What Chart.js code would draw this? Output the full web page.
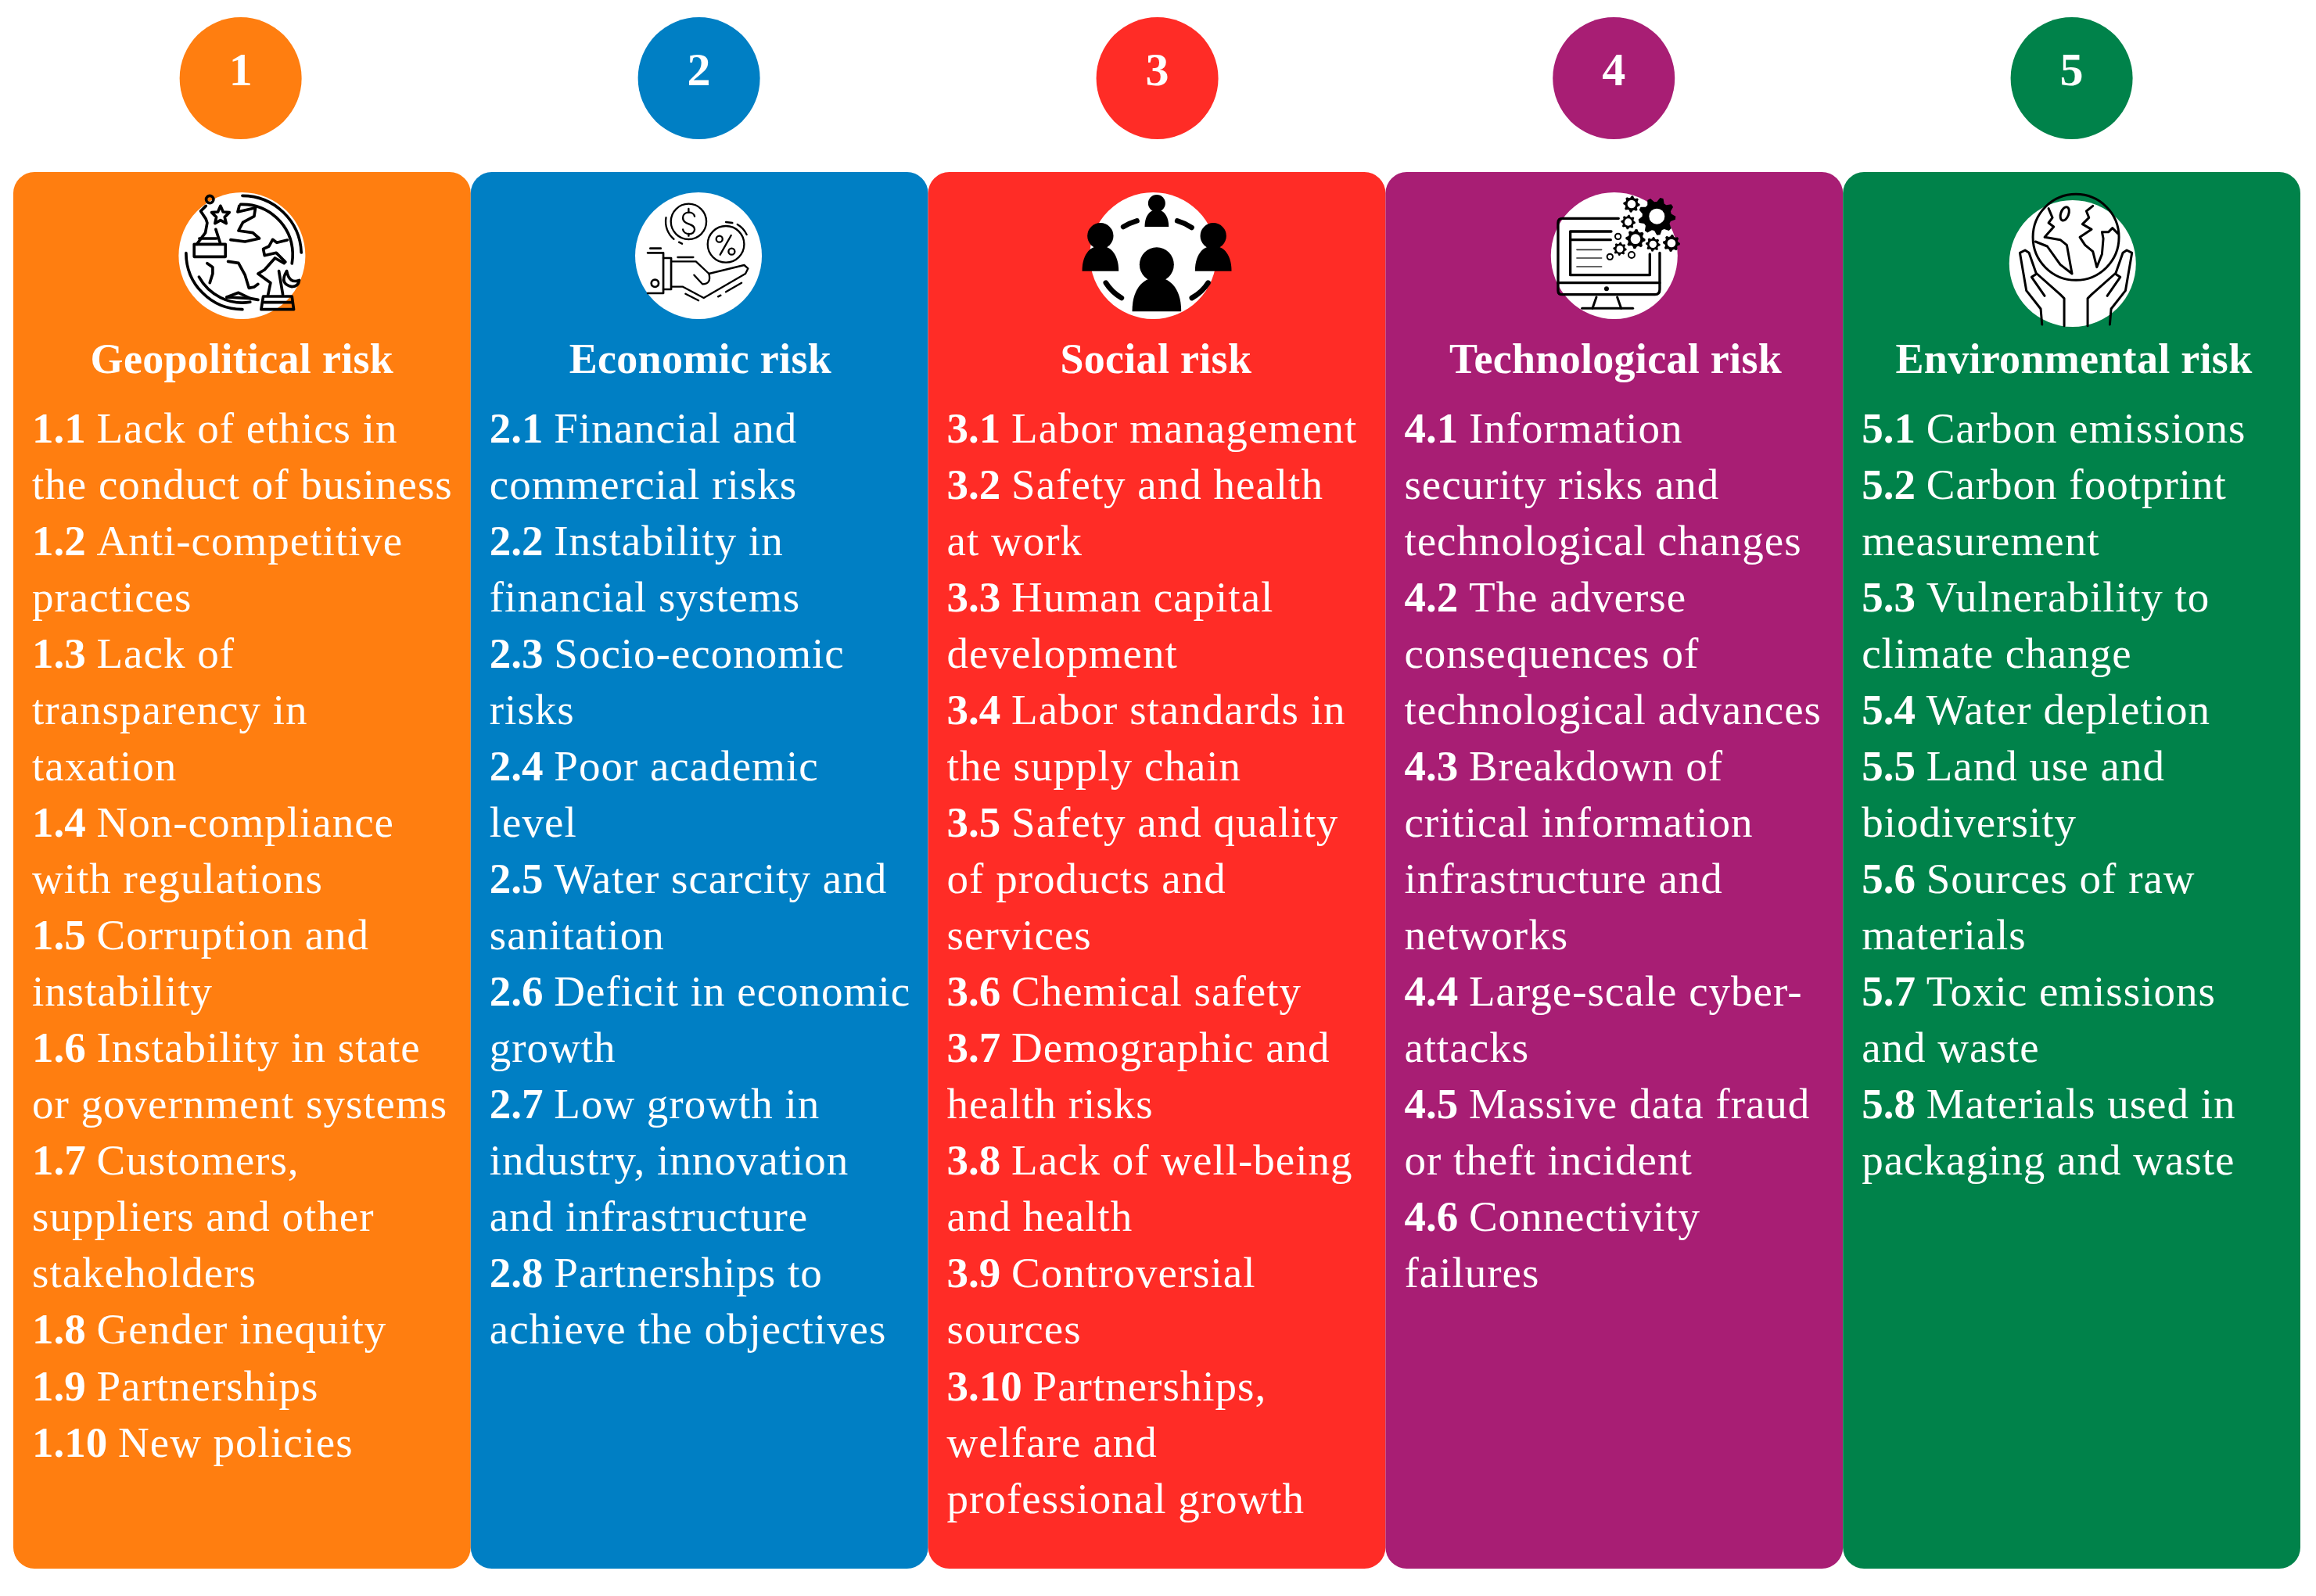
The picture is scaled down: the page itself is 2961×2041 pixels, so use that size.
<!DOCTYPE html>
<html>
<head>
<meta charset="utf-8">
<title>Risk categories</title>
<script src="https://cdn.jsdelivr.net/npm/chart.js@4"></script>
<style>
  html, body { margin: 0; padding: 0; background: #ffffff; }
  canvas { display: block; }
</style>
</head>
<body>
<canvas id="riskChart" width="2961" height="2041"></canvas>
<script>
// --- data ---
const categories = ['Geopolitical risk', 'Economic risk', 'Social risk', 'Technological risk', 'Environmental risk'];
const badgeNumbers = ['1', '2', '3', '4', '5'];

// each item: number, then its lines as wrapped in the picture
const geopoliticalItems = [
  ['1.1', 'Lack of ethics in', 'the conduct of business'],
  ['1.2', 'Anti-competitive', 'practices'],
  ['1.3', 'Lack of', 'transparency in', 'taxation'],
  ['1.4', 'Non-compliance', 'with regulations'],
  ['1.5', 'Corruption and', 'instability'],
  ['1.6', 'Instability in state', 'or government systems'],
  ['1.7', 'Customers,', 'suppliers and other', 'stakeholders'],
  ['1.8', 'Gender inequity'],
  ['1.9', 'Partnerships'],
  ['1.10', 'New policies']
];
const economicItems = [
  ['2.1', 'Financial and', 'commercial risks'],
  ['2.2', 'Instability in', 'financial systems'],
  ['2.3', 'Socio-economic', 'risks'],
  ['2.4', 'Poor academic', 'level'],
  ['2.5', 'Water scarcity and', 'sanitation'],
  ['2.6', 'Deficit in economic', 'growth'],
  ['2.7', 'Low growth in', 'industry, innovation', 'and infrastructure'],
  ['2.8', 'Partnerships to', 'achieve the objectives']
];
const socialItems = [
  ['3.1', 'Labor management'],
  ['3.2', 'Safety and health', 'at work'],
  ['3.3', 'Human capital', 'development'],
  ['3.4', 'Labor standards in', 'the supply chain'],
  ['3.5', 'Safety and quality', 'of products and', 'services'],
  ['3.6', 'Chemical safety'],
  ['3.7', 'Demographic and', 'health risks'],
  ['3.8', 'Lack of well-being', 'and health'],
  ['3.9', 'Controversial', 'sources'],
  ['3.10', 'Partnerships,', 'welfare and', 'professional growth']
];
const technologicalItems = [
  ['4.1', 'Information', 'security risks and', 'technological changes'],
  ['4.2', 'The adverse', 'consequences of', 'technological advances'],
  ['4.3', 'Breakdown of', 'critical information', 'infrastructure and', 'networks'],
  ['4.4', 'Large-scale cyber-', 'attacks'],
  ['4.5', 'Massive data fraud', 'or theft incident'],
  ['4.6', 'Connectivity', 'failures']
];
const environmentalItems = [
  ['5.1', 'Carbon emissions'],
  ['5.2', 'Carbon footprint', 'measurement'],
  ['5.3', 'Vulnerability to', 'climate change'],
  ['5.4', 'Water depletion'],
  ['5.5', 'Land use and', 'biodiversity'],
  ['5.6', 'Sources of raw', 'materials'],
  ['5.7', 'Toxic emissions', 'and waste'],
  ['5.8', 'Materials used in', 'packaging and waste']
];
const columnItems = [geopoliticalItems, economicItems, socialItems, technologicalItems, environmentalItems];

// --- layout and styles ---
const colors = ['#ff7e10', '#007fc4', '#ff2c26', '#a81e74', '#00824a'];
const panelTop = 220, panelBottom = 2006;
const badgeRow = 100, iconRows = [327, 327, 327, 327, 337];
const badgeColumns = [0.497, 1.499, 2.501, 3.499, 4.5];
const iconColumns = [0.5, 1.498, 2.492, 3.5, 4.502];
const headerColumns = [0.5, 1.502, 2.498, 3.503, 4.505];
const badgeBaseline = 109, headerBaseline = 477, firstBaseline = 565.5, rowStep = 72.06, textInset = 24;
const fontFamily = '"Liberation Serif", "Times New Roman", serif';

// --- icon helpers (coordinates are in a 3x crop of the icon, so 600 wide) ---
function poly(ctx, pts) {
  ctx.beginPath();
  pts.forEach((p, i) => i ? ctx.lineTo(p[0], p[1]) : ctx.moveTo(p[0], p[1]));
  ctx.stroke();
}
function ring(ctx, x, y, r) {
  ctx.beginPath();
  ctx.arc(x, y, r, 0, Math.PI * 2);
  ctx.stroke();
}
function arc(ctx, x, y, r, a0, a1) {
  ctx.beginPath();
  ctx.arc(x, y, r, a0 * Math.PI / 180, a1 * Math.PI / 180);
  ctx.stroke();
}
function gear(ctx, x, y, outer, hole, teeth) {
  ctx.fillStyle = '#000';
  ctx.beginPath();
  for (let i = 0; i < teeth * 4; i++) {
    const a = i * Math.PI * 2 / (teeth * 4);
    const r = (i % 4 < 2) ? outer : outer * 0.78;
    ctx.lineTo(x + Math.cos(a) * r, y + Math.sin(a) * r);
  }
  ctx.closePath();
  ctx.fill();
  ctx.fillStyle = '#fff';
  ctx.beginPath();
  ctx.arc(x, y, hole, 0, Math.PI * 2);
  ctx.fill();
}
function person(ctx, cx, headY, headR, base, half) {
  ctx.fillStyle = '#000';
  ctx.beginPath();
  ctx.arc(cx, headY, headR, 0, Math.PI * 2);
  ctx.fill();
  const top = headY + headR * 0.75;
  ctx.beginPath();
  ctx.moveTo(cx - half, base);
  ctx.bezierCurveTo(cx - half, top + (base - top) * 0.25, cx - half * 0.45, top, cx, top);
  ctx.bezierCurveTo(cx + half * 0.45, top, cx + half, top + (base - top) * 0.25, cx + half, base);
  ctx.closePath();
  ctx.fill();
}

const iconOffsets = [[-99.5, -92], [-98.3, -92], [-99.8, -92], [-94.5, -92], [-95.7, -102]];

const iconPainters = [
  function (ctx) { // globe with chess pieces
    ctx.lineWidth = 11;
    arc(ctx, 300, 272, 226, -90, -2);
    arc(ctx, 300, 272, 193, -92, 10);
    ctx.beginPath(); ctx.arc(300, 266, 216, Math.PI, Math.PI / 2, true); ctx.stroke();
    ctx.beginPath(); ctx.arc(300, 266, 190, Math.PI * 0.84, Math.PI * 0.45, true); ctx.stroke();
    poly(ctx, [[288, 85], [282, 108], [350, 92], [345, 125], [302, 148], [285, 180], [340, 188], [365, 210], [310, 222], [255, 215]]);
    poly(ctx, [[472, 216], [432, 226], [416, 214], [402, 240], [380, 250], [385, 275], [430, 265], [465, 300]]);
    poly(ctx, [[245, 298], [285, 304], [310, 350], [325, 400], [345, 396], [360, 385]]);
    poly(ctx, [[165, 305], [186, 320], [186, 345], [175, 380]]);
    poly(ctx, [[240, 435], [285, 418], [330, 440], [360, 445]]);
    poly(ctx, [[240, 435], [330, 440]]);
    ring(ctx, 175, 60, 14);
    // left piece
    poly(ctx, [[160, 85], [140, 105], [160, 135], [165, 150], [158, 188], [125, 232]]);
    poly(ctx, [[198, 175], [215, 228]]);
    poly(ctx, [[120, 232], [235, 232], [235, 280], [115, 280], [115, 232]]);
    poly(ctx, [[135, 210], [200, 210]]);
    poly(ctx, [[216, 85], [226, 108], [250, 110], [232, 128], [238, 152], [216, 140], [195, 152], [200, 128], [182, 110], [206, 108], [216, 85]]);
    // right piece
    poly(ctx, [[380, 432], [490, 432], [497, 482], [372, 482], [380, 432]]);
    poly(ctx, [[385, 455], [490, 455]]);
    poly(ctx, [[398, 428], [408, 380], [360, 345], [385, 330], [425, 285], [460, 305]]);
    poly(ctx, [[440, 335], [455, 425]]);
    ctx.beginPath();
    ctx.moveTo(470, 335);
    ctx.quadraticCurveTo(440, 385, 490, 395);
    ctx.quadraticCurveTo(515, 395, 518, 370);
    ctx.quadraticCurveTo(480, 385, 470, 335);
    ctx.stroke();
  },
  function (ctx) { // hand with coins
    ctx.lineWidth = 7;
    ring(ctx, 257, 145, 68);
    ctx.beginPath();
    ctx.moveTo(280, 125);
    ctx.bezierCurveTo(275, 103, 235, 105, 235, 130);
    ctx.bezierCurveTo(235, 160, 280, 150, 280, 175);
    ctx.bezierCurveTo(280, 200, 238, 197, 235, 175);
    ctx.stroke();
    poly(ctx, [[257, 96], [257, 110]]);
    poly(ctx, [[257, 192], [257, 200]]);
    arc(ctx, 257, 145, 88, 130, 190);
    poly(ctx, [[220, 224], [232, 230]]);
    ring(ctx, 400, 232, 70);
    poly(ctx, [[420, 198], [378, 272]]);
    ring(ctx, 375, 212, 12);
    ring(ctx, 422, 260, 12);
    arc(ctx, 400, 232, 88, -60, -25);
    poly(ctx, [[400, 147], [425, 150]]);
    ctx.lineWidth = 8;
    poly(ctx, [[100, 265], [160, 265], [160, 420], [100, 420]]);
    poly(ctx, [[110, 248], [150, 248]]);
    ring(ctx, 128, 382, 14);
    poly(ctx, [[160, 285], [190, 285], [190, 405], [160, 405]]);
    ctx.lineWidth = 7;
    poly(ctx, [[190, 298], [285, 298], [335, 345], [470, 312], [485, 325], [475, 345], [315, 438], [235, 395], [190, 395]]);
    ctx.beginPath();
    ctx.moveTo(278, 350);
    ctx.lineTo(310, 385);
    ctx.quadraticCurveTo(345, 385, 335, 345);
    ctx.stroke();
    poly(ctx, [[215, 282], [275, 282]]);
    poly(ctx, [[245, 422], [295, 448]]);
    poly(ctx, [[400, 415], [460, 380]]);
    poly(ctx, [[370, 433], [380, 428]]);
  },
  function (ctx) { // people in a circle
    person(ctx, 313, 75, 33, 165, 46);
    person(ctx, 97, 200, 50, 335, 70);
    person(ctx, 530, 200, 50, 335, 70);
    person(ctx, 313, 310, 66, 490, 94);
    ctx.lineWidth = 20;
    ctx.beginPath(); ctx.moveTo(185, 165); ctx.quadraticCurveTo(210, 150, 237, 142); ctx.stroke();
    ctx.beginPath(); ctx.moveTo(392, 142); ctx.quadraticCurveTo(420, 150, 447, 168); ctx.stroke();
    ctx.beginPath(); ctx.moveTo(118, 380); ctx.quadraticCurveTo(140, 415, 178, 438); ctx.stroke();
    ctx.beginPath(); ctx.moveTo(510, 380); ctx.quadraticCurveTo(488, 415, 448, 438); ctx.stroke();
  },
  function (ctx) { // monitor with gears
    ctx.lineWidth = 10;
    ctx.beginPath();
    ctx.moveTo(300, 133);
    ctx.lineTo(85, 133);
    ctx.quadraticCurveTo(68, 133, 68, 150);
    ctx.lineTo(68, 410);
    ctx.quadraticCurveTo(68, 425, 85, 425);
    ctx.lineTo(440, 425);
    ctx.quadraticCurveTo(458, 425, 458, 405);
    ctx.lineTo(458, 265);
    ctx.stroke();
    poly(ctx, [[68, 380], [458, 380]]);
    poly(ctx, [[272, 183], [115, 183], [115, 350], [420, 350], [420, 270]]);
    poly(ctx, [[115, 215], [270, 215]]);
    ctx.lineWidth = 5;
    ctx.strokeStyle = '#333';
    poly(ctx, [[140, 253], [235, 253]]);
    poly(ctx, [[140, 285], [235, 285]]);
    poly(ctx, [[140, 318], [235, 318]]);
    ctx.strokeStyle = '#000';
    ctx.lineWidth = 9;
    poly(ctx, [[215, 435], [200, 478]]);
    poly(ctx, [[295, 435], [310, 478]]);
    poly(ctx, [[160, 478], [355, 478]]);
    ctx.fillStyle = '#000';
    ctx.beginPath(); ctx.arc(254, 403, 9, 0, Math.PI * 2); ctx.fill();
    gear(ctx, 447, 125, 72, 30, 9);
    gear(ctx, 350, 78, 32, 16, 8);
    gear(ctx, 337, 147, 28, 14, 8);
    gear(ctx, 365, 212, 38, 19, 8);
    gear(ctx, 432, 232, 28, 14, 8);
    gear(ctx, 503, 228, 33, 16, 8);
    gear(ctx, 305, 250, 26, 13, 8);
    ctx.lineWidth = 6;
    ring(ctx, 298, 202, 11);
    ring(ctx, 350, 273, 12);
    ring(ctx, 267, 280, 11);
  },
  function (ctx) { // hands holding the globe
    ctx.lineWidth = 9;
    ring(ctx, 300, 205, 165);
    poly(ctx, [[195, 95], [210, 130], [195, 150], [215, 165], [180, 205], [240, 215], [265, 235], [285, 345], [240, 310], [190, 240], [145, 222]]);
    poly(ctx, [[365, 85], [340, 105], [350, 130], [325, 155], [360, 175], [315, 205], [335, 235], [365, 260], [380, 320], [400, 270], [405, 210], [400, 185], [425, 185], [440, 170], [460, 190]]);
    ctx.beginPath();
    ctx.ellipse(257, 115, 15, 27, 0.35, 0, Math.PI * 2);
    ctx.stroke();
    const hand = [[170, 540], [165, 480], [110, 410], [85, 265], [105, 255], [120, 265], [148, 345]];
    const palm = [[180, 430], [130, 358], [150, 345], [240, 425], [255, 440], [255, 545]];
    poly(ctx, hand);
    poly(ctx, palm);
    poly(ctx, hand.map(p => [600 - p[0], p[1]]));
    poly(ctx, palm.map(p => [600 - p[0], p[1]]));
  }
];

// --- text and icons are drawn over the bars at scale positions ---
const panelContent = {
  id: 'panelContent',
  afterDatasetsDraw(chart) {
    const ctx = chart.ctx;
    const xp = chart.scales.xp, y = chart.scales.y;
    const bars = chart.getDatasetMeta(0).data;

    // icons
    categories.forEach((name, i) => {
      ctx.save();
      ctx.translate(xp.getPixelForValue(iconColumns[i]) + iconOffsets[i][0], y.getPixelForValue(iconRows[i]) + iconOffsets[i][1]);
      ctx.scale(1 / 3, 1 / 3);
      ctx.strokeStyle = '#000';
      ctx.lineCap = 'round';
      ctx.lineJoin = 'round';
      iconPainters[i](ctx);
      ctx.restore();
    });

    ctx.save();
    ctx.fillStyle = '#ffffff';
    ctx.textBaseline = 'alphabetic';

    // badge numbers
    ctx.textAlign = 'center';
    ctx.font = 'bold 60px ' + fontFamily;
    badgeNumbers.forEach((n, i) => {
      ctx.fillText(n, xp.getPixelForValue(badgeColumns[i]), y.getPixelForValue(badgeBaseline));
    });

    // column headers
    ctx.font = 'bold 54px ' + fontFamily;
    ctx.letterSpacing = '0.3px';
    categories.forEach((name, i) => {
      ctx.fillText(name, xp.getPixelForValue(headerColumns[i]), y.getPixelForValue(headerBaseline));
    });

    // numbered items
    ctx.textAlign = 'left';
    columnItems.forEach((items, i) => {
      const left = bars[i].x - bars[i].width / 2 + textInset;
      let row = 0;
      items.forEach(item => {
        item.slice(1).forEach((line, j) => {
          const base = y.getPixelForValue(firstBaseline + row * rowStep);
          let x = left;
          if (j === 0) {
            ctx.font = 'bold 55px ' + fontFamily;
            ctx.letterSpacing = '0px';
            ctx.fillText(item[0], x, base);
            x += ctx.measureText(item[0]).width;
            ctx.font = '55px ' + fontFamily;
            x += ctx.measureText(' ').width;
          } else {
            ctx.font = '55px ' + fontFamily;
          }
          ctx.letterSpacing = '1px';
          ctx.fillText(line, x, base);
          row++;
        });
      });
    });
    ctx.restore();
  }
};

// --- chart ---
new Chart(document.getElementById('riskChart'), {
  type: 'bar',
  data: {
    labels: categories,
    datasets: [
      {
        label: 'Panels',
        data: categories.map(() => [panelTop, panelBottom]),
        backgroundColor: colors,
        borderWidth: 0,
        borderSkipped: false,
        borderRadius: 27,
        inflateAmount: 0,
        categoryPercentage: 1,
        barPercentage: 1,
        grouped: false,
        order: 3
      },
      {
        type: 'scatter',
        label: 'Badges',
        xAxisID: 'xp',
        data: badgeColumns.map(c => ({ x: c, y: badgeRow })),
        backgroundColor: colors,
        borderWidth: 0,
        pointRadius: 78,
        clip: false,
        order: 2
      },
      {
        type: 'scatter',
        label: 'Icon discs',
        xAxisID: 'xp',
        data: iconColumns.map((c, i) => ({ x: c, y: iconRows[i] })),
        backgroundColor: '#ffffff',
        borderWidth: 0,
        pointRadius: 81,
        clip: false,
        order: 1
      }
    ]
  },
  options: {
    responsive: false,
    devicePixelRatio: 1,
    animation: false,
    events: [],
    layout: { autoPadding: false, padding: { left: 17, right: 20, top: 0, bottom: 35 } },
    plugins: {
      legend: { display: false },
      title: { display: false },
      tooltip: { enabled: false }
    },
    scales: {
      x: { type: 'category', display: false, offset: true },
      xp: { type: 'linear', axis: 'x', display: false, min: 0, max: 5, offset: false },
      // y runs in picture rows, top to bottom
      y: { type: 'linear', display: false, reverse: true, min: 0, max: 2006 }
    }
  },
  plugins: [panelContent]
});
</script>
</body>
</html>
